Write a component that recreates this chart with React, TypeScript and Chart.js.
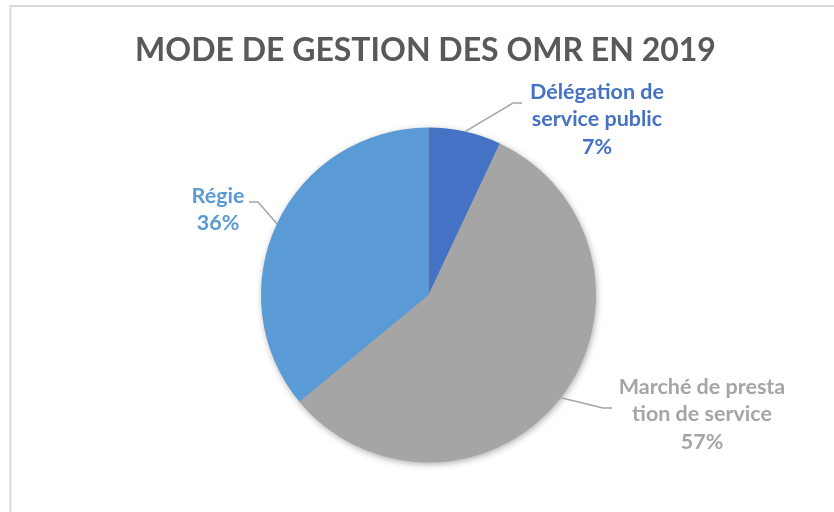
import React, { useEffect, useRef } from "react";
import { Chart, registerables } from "chart.js";

Chart.register(...registerables);

const titleText = "MODE DE GESTION DES OMR EN 2019";
const categories = ["Délégation de service public", "Marché de prestation de service", "Régie"];
const values = [7, 57, 36];
const labelLines = [
  ["Délégation de", "service public", "7%"],
  ["Marché de presta", "tion de service", "57%"],
  ["Régie", "36%"],
];
const sliceColors = ["#4472C4", "#A5A5A5", "#5B9BD5"];

// label layout (centre x, first-line centre y, elbow point, horizontal end)
const labelLayout = [
  { x: 597, y: 92, elbow: [513, 103], end: [522, 103] },
  { x: 702, y: 387, elbow: [603, 408], end: [612, 408] },
  { x: 218, y: 196, elbow: [258, 202], end: [249, 202] },
];

const FONT = "Lato, Carlito, Calibri, 'Open Sans', sans-serif";

const decorPlugin = {
  id: "decor",
  beforeDraw(chart: any) {
    const ctx = chart.ctx;
    ctx.save();
    ctx.fillStyle = "#ffffff";
    ctx.fillRect(0, 0, chart.width, chart.height);
    ctx.strokeStyle = "#d9d9d9";
    ctx.lineWidth = 2;
    ctx.beginPath();
    ctx.moveTo(10.5, chart.height + 5);
    ctx.lineTo(10.5, 6);
    ctx.lineTo(chart.width + 5, 6);
    ctx.stroke();
    // title
    ctx.fillStyle = "#595959";
    ctx.font = `bold 32px ${FONT}`;
    ctx.textAlign = "center";
    ctx.textBaseline = "alphabetic";
    ctx.fillText(titleText, 425.5, 61);
    ctx.restore();
  },
  beforeDatasetsDraw(chart: any) {
    const meta = chart.getDatasetMeta(0);
    const arc = meta.data[0];
    if (!arc) return;
    const { x, y, outerRadius } = arc.getProps(["x", "y", "outerRadius"], true);
    const ctx = chart.ctx;
    ctx.save();
    ctx.shadowColor = "rgba(0,0,0,0.35)";
    ctx.shadowBlur = 7;
    ctx.shadowOffsetX = 1;
    ctx.shadowOffsetY = 2;
    ctx.fillStyle = "#A5A5A5";
    ctx.beginPath();
    ctx.arc(x, y, outerRadius - 0.5, 0, Math.PI * 2);
    ctx.fill();
    ctx.restore();
  },
  afterDatasetsDraw(chart: any) {
    const meta = chart.getDatasetMeta(0);
    const ctx = chart.ctx;
    ctx.save();
    meta.data.forEach((el: any, i: number) => {
      const { x, y, startAngle, endAngle, outerRadius } = el.getProps(
        ["x", "y", "startAngle", "endAngle", "outerRadius"],
        true
      );
      const mid = (startAngle + endAngle) / 2;
      const px = x + Math.cos(mid) * outerRadius;
      const py = y + Math.sin(mid) * outerRadius;
      const lay = labelLayout[i];
      ctx.strokeStyle = "#a6a6a6";
      ctx.lineWidth = 1.5;
      ctx.beginPath();
      ctx.moveTo(px, py);
      ctx.lineTo(lay.elbow[0], lay.elbow[1]);
      ctx.lineTo(lay.end[0], lay.end[1]);
      ctx.stroke();
      ctx.fillStyle = sliceColors[i];
      ctx.font = `bold 21.5px ${FONT}`;
      ctx.textAlign = "center";
      ctx.textBaseline = "middle";
      labelLines[i].forEach((t, j) => {
        ctx.fillText(t, lay.x, lay.y + j * 27.5);
      });
    });
    ctx.restore();
  },
};

export default function App() {
  const ref = useRef<HTMLCanvasElement | null>(null);
  useEffect(() => {
    if (!ref.current) return;
    const chart = new Chart(ref.current, {
      type: "pie",
      data: {
        labels: categories,
        datasets: [
          {
            data: values,
            backgroundColor: sliceColors,
            borderWidth: 0,
          },
        ],
      },
      options: {
        responsive: false,
        animation: false,
        devicePixelRatio: 1,
        layout: { padding: { left: 261, right: 238, top: 127.5, bottom: 49.5 } },
        plugins: {
          legend: { display: false },
          title: { display: false },
          tooltip: { enabled: false },
        },
      },
      plugins: [decorPlugin],
    });
    return () => chart.destroy();
  }, []);
  return (
    <canvas
      ref={ref}
      width={834}
      height={512}
      style={{ position: "fixed", left: 0, top: 0, width: 834, height: 512 }}
    />
  );
}
